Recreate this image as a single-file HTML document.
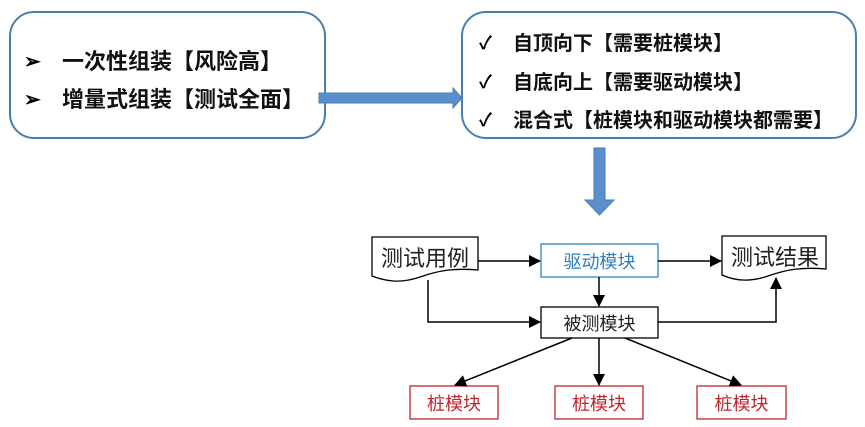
<!DOCTYPE html>
<html><head><meta charset="utf-8"><style>
html,body{margin:0;padding:0;background:#fff;}
svg{display:block;}
text{font-family:"Liberation Sans","Noto Sans CJK SC",sans-serif;}
</style></head><body>
<svg width="865" height="427" viewBox="0 0 865 427" xmlns="http://www.w3.org/2000/svg">
<defs>
<marker id="ah" markerWidth="12" markerHeight="12" refX="11" refY="6" orient="auto" markerUnits="userSpaceOnUse">
<path d="M0,0 L12,6 L0,12 z" fill="#000"/></marker>
</defs>
<rect x="10" y="12" width="315" height="126" rx="24" fill="#fff" stroke="#4a7eb0" stroke-width="2"/>
<text x="24" y="68" font-size="20" font-weight="bold">➢</text>
<text x="62" y="69" font-size="22" font-weight="bold" fill="#111">一次性组装【风险高】</text>
<text x="24" y="106" font-size="20" font-weight="bold">➢</text>
<text x="62" y="107" font-size="22" font-weight="bold" fill="#111">增量式组装【测试全面】</text>

<rect x="462" y="12" width="394" height="126" rx="24" fill="#fff" stroke="#4a7eb0" stroke-width="2"/>
<text x="479" y="49" font-size="18" font-weight="bold">✓</text>
<text x="513" y="50" font-size="20" font-weight="bold" fill="#111">自顶向下【需要桩模块】</text>
<text x="479" y="88" font-size="18" font-weight="bold">✓</text>
<text x="513" y="89" font-size="20" font-weight="bold" fill="#111">自底向上【需要驱动模块】</text>
<text x="479" y="126" font-size="18" font-weight="bold">✓</text>
<text x="513" y="127" font-size="20" font-weight="bold" fill="#111">混合式【桩模块和驱动模块都需要】</text>

<path d="M319,93 H453 V88 L462,98 L453,108 V103 H319 z" fill="#5b8fcc" stroke="#4a7eb0" stroke-width="1"/>
<path d="M594,148 H605 V200 H614 L599.5,215 L585,200 H594 z" fill="#5b8fcc" stroke="#4a7eb0" stroke-width="1"/>

<path d="M372,237 H478 V270 C455,268 440,270 420,277 C400,284 385,281 372,276 z" fill="#fff" stroke="#000" stroke-width="1.3"/>
<text x="381" y="266" font-size="22" fill="#222">测试用例</text>
<path d="M722,236 H826 V269 C803,267 788,269 768,276 C748,283 733,280 722,275 z" fill="#fff" stroke="#000" stroke-width="1.3"/>
<text x="731" y="265" font-size="22" fill="#222">测试结果</text>

<rect x="541" y="244" width="117" height="33" fill="#fff" stroke="#2f86c8" stroke-width="1.3"/>
<text x="599.5" y="268" font-size="18" fill="#2f7fc0" text-anchor="middle">驱动模块</text>
<rect x="541" y="307" width="117" height="31" fill="#fff" stroke="#000" stroke-width="1.3"/>
<text x="599.5" y="330" font-size="18" fill="#222" text-anchor="middle">被测模块</text>

<rect x="410" y="386" width="88" height="33" fill="#fff" stroke="#c0262c" stroke-width="1.3"/>
<text x="454" y="410" font-size="18" fill="#c0262c" text-anchor="middle">桩模块</text>
<rect x="555" y="386" width="88" height="33" fill="#fff" stroke="#c0262c" stroke-width="1.3"/>
<text x="599" y="410" font-size="18" fill="#c0262c" text-anchor="middle">桩模块</text>
<rect x="697" y="386" width="89" height="33" fill="#fff" stroke="#c0262c" stroke-width="1.3"/>
<text x="741.5" y="410" font-size="18" fill="#c0262c" text-anchor="middle">桩模块</text>

<g stroke="#000" stroke-width="1.5" fill="none">
<line x1="478" y1="261" x2="540" y2="261" marker-end="url(#ah)"/>
<line x1="658" y1="261" x2="721" y2="261" marker-end="url(#ah)"/>
<line x1="599" y1="277" x2="599" y2="306" marker-end="url(#ah)"/>
<polyline points="428,280 428,322 540,322" marker-end="url(#ah)"/>
<polyline points="658,322 776,322 776,278" marker-end="url(#ah)"/>
<line x1="572" y1="338" x2="455" y2="385" marker-end="url(#ah)"/>
<line x1="599" y1="338" x2="599" y2="385" marker-end="url(#ah)"/>
<line x1="625" y1="338" x2="741" y2="385" marker-end="url(#ah)"/>
</g>
</svg>
</body></html>
